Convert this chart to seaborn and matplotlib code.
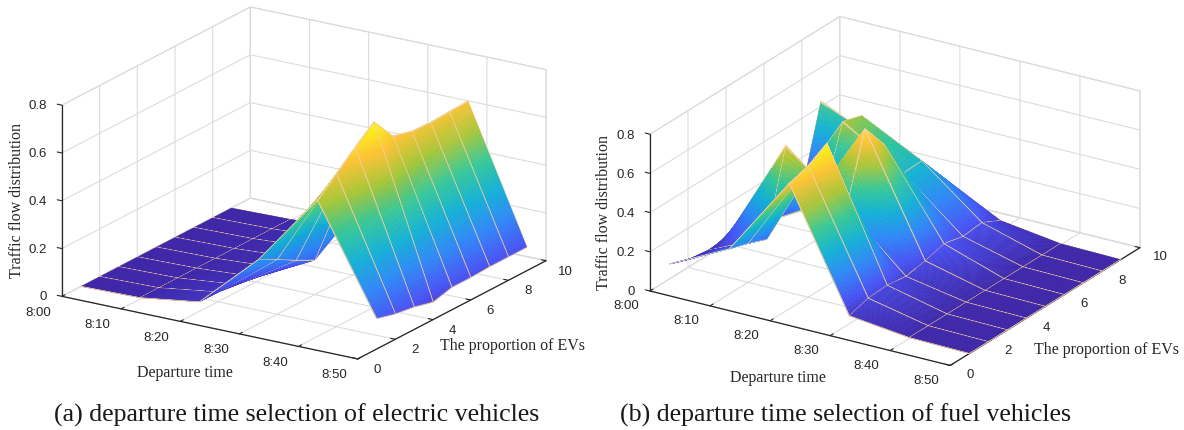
import numpy as np
import matplotlib
matplotlib.use("Agg")
import matplotlib.pyplot as plt
import seaborn as sns

sns.set_theme(style="white")
plt.rcParams['font.family'] = ['Liberation Sans', 'DejaVu Sans']

departure_min = [0, 10, 20, 30, 40, 50]
time_labels = ['8:00', '8:10', '8:20', '8:30', '8:40', '8:50']
ev_levels = [1, 2, 3, 4, 5, 6, 7, 8, 9]

# one row per departure time, one column per EV level
flow_electric = [
    [0.00, 0.00, 0.00, 0.00, 0.00, 0.00, 0.00, 0.00, 0.00],
    [0.005, 0.005, 0.005, 0.005, 0.005, 0.005, 0.005, 0.005, 0.005],
    [0.04, 0.04, 0.03, 0.02, 0.02, 0.02, 0.02, 0.02, 0.02],
    [0.27, 0.23, 0.185, 0.144, 0.20, 0.20, 0.20, 0.20, 0.20],
    [0.57, 0.64, 0.71, 0.776, 0.675, 0.654, 0.65, 0.654, 0.658],
    [0.127, 0.105, 0.093, 0.072, 0.093, 0.093, 0.097, 0.097, 0.097],
]
flow_fuel = [
    [0.077, 0.04, 0.025, 0.025, 0.02, 0.02, 0.02, 0.03, 0.43],
    [0.23, 0.20, 0.16, 0.58, 0.19, 0.20, 0.52, 0.49, 0.29],
    [0.64, 0.67, 0.727, 0.32, 0.68, 0.54, 0.33, 0.335, 0.20],
    [0.04, 0.07, 0.076, 0.06, 0.08, 0.107, 0.084, 0.095, 0.046],
    [0.005, 0.005, 0.005, 0.005, 0.005, 0.005, 0.005, 0.005, 0.005],
    [0.00, 0.00, 0.00, 0.00, 0.00, 0.00, 0.00, 0.00, 0.00],
]

ev_ticks = [0, 2, 4, 6, 8, 10]
flow_ticks = [0, 0.2, 0.4, 0.6, 0.8]
flow_labels = ['0', '0.2', '0.4', '0.6', '0.8']

parula = sns.blend_palette(['#3E26A8', '#4752F4', '#2E87F7', '#12B1D6',
                            '#37C897', '#ABC739', '#FEC338', '#F9FB15'], n_colors=256, as_cmap=True)
mesh_color = np.array([0.97, 0.82, 0.62, 1.0])
mesh_mix = 0.85


def cell_params(n_fine, strip):
    # positions inside one mesh cell, with thin strips at both ends for the mesh line
    return np.r_[0, strip, np.linspace(strip, 1 - strip, n_fine + 1)[1:-1], 1 - strip, 1]


def draw_panel(ax, values, elev, azim, aspect, zoom):
    values = np.array(values)
    ax.set_proj_type('ortho')
    ax.view_init(elev=elev, azim=azim)
    ax.set_box_aspect(aspect, zoom=zoom)
    ax.set_facecolor('none')

    # shade like MATLAB "interp": each mesh cell is split up for the colour gradient only
    px = cell_params(36, 0.005)
    py = cell_params(12, 0.022)
    nx, ny = len(departure_min) - 1, len(ev_levels) - 1
    ux = np.concatenate([i + px[:-1] for i in range(nx)] + [[nx]])
    uy = np.concatenate([j + py[:-1] for j in range(ny)] + [[ny]])
    ix = np.minimum(ux.astype(int), nx - 1)
    iy = np.minimum(uy.astype(int), ny - 1)
    fx = (ux - ix)[:, None]
    fy = (uy - iy)[None, :]
    z_fine = (values[ix][:, iy] * (1 - fx) * (1 - fy) + values[ix + 1][:, iy] * fx * (1 - fy)
              + values[ix][:, iy + 1] * (1 - fx) * fy + values[ix + 1][:, iy + 1] * fx * fy)
    x_fine = np.interp(ux, range(nx + 1), departure_min)
    y_fine = np.interp(uy, range(ny + 1), ev_levels)
    X, Y = np.meshgrid(x_fine, y_fine, indexing='ij')

    mid = (z_fine[:-1, :-1] + z_fine[1:, :-1] + z_fine[:-1, 1:] + z_fine[1:, 1:]) / 4
    colors = parula(mid / values.max())
    kx = len(px) - 1
    ky = len(py) - 1
    on_x = (np.arange(len(ux) - 1) % kx == 0) | (np.arange(len(ux) - 1) % kx == kx - 1)
    on_y = (np.arange(len(uy) - 1) % ky == 0) | (np.arange(len(uy) - 1) % ky == ky - 1)
    colors[on_x, :] = colors[on_x, :] * (1 - mesh_mix) + mesh_color * mesh_mix
    colors[:, on_y] = colors[:, on_y] * (1 - mesh_mix) + mesh_color * mesh_mix

    ax.plot_surface(X, Y, z_fine, facecolors=colors, rstride=1, cstride=1, shade=False,
                    linewidth=0.35, edgecolor=colors.reshape(-1, 4), antialiased=True)

    ax.set_xlim(0, 50)
    ax.set_ylim(0, 10)
    ax.set_zlim(0, 0.8)
    ax.set_xticks(departure_min, time_labels)
    ax.set_yticks(ev_ticks, [str(v) for v in ev_ticks])
    ax.set_zticks(flow_ticks, flow_labels)
    ax.tick_params(axis='both', labelsize=9.5, colors='#262626', pad=0)
    ax.tick_params(axis='x', pad=3)
    ax.tick_params(axis='y', pad=5)
    ax.tick_params(axis='z', pad=-2)
    plt.setp(ax.get_xticklabels(), va='center', ha='right')
    plt.setp(ax.get_yticklabels(), va='bottom')
    plt.setp(ax.get_zticklabels(), va='center', ha='right')
    for axis in (ax.xaxis, ax.yaxis, ax.zaxis):
        axis.set_pane_color((1, 1, 1, 1))
        axis.pane.set_edgecolor('#d9d9d9')
        axis.pane.set_linewidth(0.8)
        axis.line.set_color('#262626')
        axis.line.set_linewidth(0.9)
        axis._axinfo['grid']['color'] = '#dcdcdc'
        axis._axinfo['grid']['linewidth'] = 0.8
        axis._axinfo['tick']['inward_factor'] = 0.0
        axis._axinfo['tick']['outward_factor'] = 0.2
        axis._axinfo['tick']['linewidth'] = {True: 0.8, False: 0.5}
    # z axis on the left side like the MATLAB view
    ax.zaxis._axinfo['juggled'] = (1, 2, 0)


fig = plt.figure(figsize=(11.84, 4.3), dpi=100)
W, H = 1184, 430
side = 520
view_frac = 0.095 / 0.185


def add_panel(cx, cy):
    left = (cx - side * view_frac) / W
    bottom = 1 - (cy + side * (1 - view_frac)) / H
    return fig.add_axes([left, bottom, side / W, side / H], projection='3d')


ax_a = add_panel(304, 197)
draw_panel(ax_a, flow_electric, 19.4, -57.5, (1, 1, 0.578), 1.0)
ax_b = add_panel(895, 205)
draw_panel(ax_b, flow_fuel, 23.1, -57.7, (1, 1, 0.48), 0.99)

serif = ['Liberation Serif', 'DejaVu Serif']
axis_text = dict(family=serif, fontsize=11.5, color='#262626', ha='center', va='center')
cap_text = dict(family=serif, fontsize=18.6, color='#1a1a1a', ha='center', va='center')


def label(x, y, s, **kw):
    fig.text(x / W, 1 - y / H, s, **kw)


label(17, 200, 'Traffic flow distribution', rotation=90, **axis_text)
label(185, 373, 'Departure time', **axis_text)
label(512, 346, 'The proportion of EVs', **axis_text)
label(297, 415, '(a) departure time selection of electric vehicles', **cap_text)

label(604, 212, 'Traffic flow distribution', rotation=90, **axis_text)
label(778, 378, 'Departure time', **axis_text)
label(1106, 350, 'The proportion of EVs', **axis_text)
label(845, 415, '(b) departure time selection of fuel vehicles', **cap_text)

fig.savefig('out.png', dpi=100)
